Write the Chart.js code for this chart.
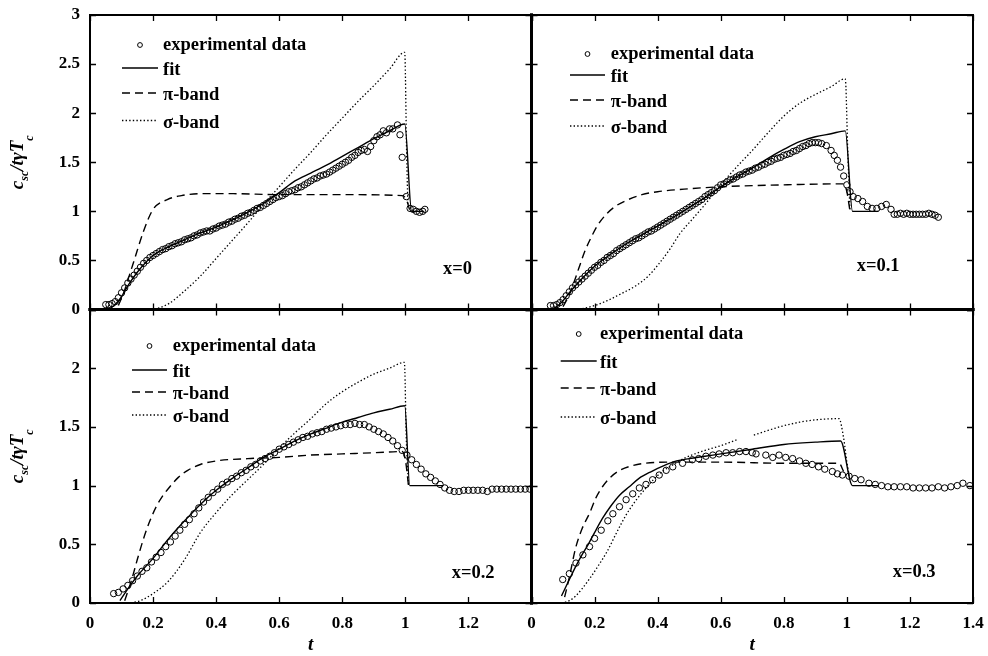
<!DOCTYPE html>
<html>
<head>
<meta charset="utf-8">
<script src="https://cdn.jsdelivr.net/npm/chart.js@4.4.1/dist/chart.umd.min.js"></script>
<style>
  html, body { margin: 0; background: #fff; }
  #wrap { position: relative; width: 988px; height: 656px; }
  #wrap canvas { position: absolute; left: 0; top: 0; }
</style>
</head>
<body>
<div id="wrap">
  <canvas id="p0" width="988" height="656"></canvas>
  <canvas id="p1" width="988" height="656"></canvas>
  <canvas id="p2" width="988" height="656"></canvas>
  <canvas id="p3" width="988" height="656"></canvas>
</div>
<script>
"use strict"

// legend / series names
var seriesNames = ["experimental data", "fit", "\u03c0-band", "\u03c3-band"];
var panelTags = ["x=0", "x=0.1", "x=0.2", "x=0.3"];
var tTicks = [0, 0.2, 0.4, 0.6, 0.8, 1, 1.2, 1.4];

// ---- x = 0 ----  [t, c/tγTc]
var exp0 = [[0.05,0.05],[0.06,0.05],[0.07,0.06],[0.08,0.08],[0.09,0.12],[0.10,0.17],[0.11,0.22],[0.12,0.27],[0.13,0.31],[0.14,0.35],
  [0.15,0.39],[0.16,0.43],[0.17,0.47],[0.18,0.50],[0.19,0.53],[0.20,0.55],[0.21,0.57],[0.22,0.59],[0.23,0.61],[0.24,0.62],
  [0.25,0.64],[0.26,0.65],[0.27,0.67],[0.28,0.68],[0.29,0.69],[0.30,0.71],[0.31,0.72],[0.32,0.73],[0.33,0.75],[0.34,0.76],
  [0.35,0.78],[0.36,0.79],[0.37,0.80],[0.38,0.80],[0.39,0.82],[0.40,0.83],[0.41,0.85],[0.42,0.86],[0.43,0.87],[0.44,0.89],
  [0.45,0.90],[0.46,0.92],[0.47,0.93],[0.48,0.95],[0.49,0.96],[0.50,0.98],[0.51,0.99],[0.52,1.01],[0.53,1.03],[0.54,1.04],
  [0.55,1.06],[0.56,1.08],[0.57,1.10],[0.58,1.12],[0.59,1.14],[0.60,1.15],[0.61,1.16],[0.62,1.18],[0.63,1.20],[0.64,1.21],
  [0.65,1.22],[0.66,1.24],[0.67,1.25],[0.68,1.27],[0.69,1.29],[0.70,1.31],[0.71,1.33],[0.72,1.34],[0.73,1.36],[0.74,1.37],
  [0.75,1.38],[0.76,1.40],[0.77,1.42],[0.78,1.44],[0.79,1.46],[0.80,1.48],[0.81,1.50],[0.82,1.52],[0.83,1.55],[0.84,1.57],
  [0.85,1.60],[0.86,1.62],[0.87,1.63],[0.88,1.61],[0.89,1.66],[0.90,1.72],[0.91,1.76],[0.92,1.78],[0.93,1.82],[0.94,1.80],
  [0.95,1.84],[0.96,1.84],[0.975,1.88],[0.983,1.78],[0.99,1.55],[1.003,1.15],[1.015,1.03],[1.025,1.02],[1.035,1.00],[1.045,0.99],
  [1.055,1.00],[1.062,1.02]];
var fit0 = [[0.06,0],[0.08,0.05],[0.1,0.13],[0.12,0.24],[0.15,0.38],[0.2,0.55],[0.25,0.64],[0.3,0.71],[0.35,0.78],[0.4,0.84],
  [0.45,0.91],[0.5,0.99],[0.55,1.08],[0.6,1.19],[0.65,1.31],[0.7,1.39],[0.75,1.47],[0.8,1.56],[0.85,1.65],[0.9,1.74],
  [0.95,1.82],[0.998,1.89],[1.02,1.0],[1.06,1.0]];
var pi0 = [[0.09,0.04],[0.11,0.2],[0.125,0.35],[0.14,0.5],[0.17,0.8],[0.2,1.02],[0.245,1.12],[0.29,1.16],[0.35,1.18],[0.45,1.18],
  [0.6,1.17],[0.8,1.17],[0.99,1.16],[1.003,1.12],[1.015,1.0]];
var sigma0 = [[0.205,0],[0.25,0.06],[0.3,0.19],[0.35,0.34],[0.4,0.52],[0.45,0.7],[0.5,0.88],[0.55,1.07],[0.6,1.25],[0.65,1.43],
  [0.7,1.6],[0.75,1.78],[0.8,1.95],[0.85,2.12],[0.9,2.28],[0.95,2.45],[0.998,2.62],[1.004,1.6],[1.008,1.05]];

// ---- x = 0.1 ----
var exp1 = [[0.06,0.04],[0.07,0.04],[0.08,0.05],[0.09,0.07],[0.10,0.10],[0.11,0.14],[0.12,0.18],[0.13,0.22],[0.14,0.25],[0.15,0.28],
  [0.16,0.31],[0.17,0.34],[0.18,0.37],[0.19,0.40],[0.20,0.43],[0.21,0.45],[0.22,0.48],[0.23,0.50],[0.24,0.53],[0.25,0.55],
  [0.26,0.57],[0.27,0.60],[0.28,0.62],[0.29,0.64],[0.30,0.66],[0.31,0.68],[0.32,0.70],[0.33,0.72],[0.34,0.73],[0.35,0.75],
  [0.36,0.77],[0.37,0.79],[0.38,0.80],[0.39,0.82],[0.40,0.84],[0.41,0.86],[0.42,0.88],[0.43,0.90],[0.44,0.92],[0.45,0.94],
  [0.46,0.96],[0.47,0.98],[0.48,1.00],[0.49,1.02],[0.50,1.04],[0.51,1.06],[0.52,1.08],[0.53,1.10],[0.54,1.12],[0.55,1.15],
  [0.56,1.17],[0.57,1.19],[0.58,1.21],[0.59,1.24],[0.60,1.27],[0.61,1.28],[0.62,1.30],[0.63,1.32],[0.64,1.33],[0.65,1.35],
  [0.66,1.37],[0.67,1.38],[0.68,1.40],[0.69,1.41],[0.70,1.42],[0.71,1.44],[0.72,1.45],[0.73,1.47],[0.74,1.48],[0.75,1.50],
  [0.76,1.51],[0.77,1.53],[0.78,1.54],[0.79,1.55],[0.80,1.57],[0.81,1.58],[0.82,1.59],[0.83,1.61],[0.84,1.62],[0.85,1.64],
  [0.86,1.66],[0.87,1.67],[0.88,1.69],[0.89,1.70],[0.90,1.70],[0.91,1.70],[0.92,1.69],[0.935,1.67],[0.95,1.62],[0.96,1.57],
  [0.97,1.52],[0.98,1.45],[0.99,1.36],[1.0,1.27],[1.01,1.20],[1.02,1.15],[1.035,1.13],[1.05,1.10],[1.065,1.05],[1.08,1.03],
  [1.095,1.03],[1.11,1.05],[1.125,1.07],[1.14,1.02],[1.15,0.97],[1.16,0.97],[1.17,0.98],[1.18,0.97],[1.19,0.98],[1.20,0.97],
  [1.21,0.97],[1.22,0.97],[1.23,0.97],[1.24,0.97],[1.25,0.97],[1.26,0.98],[1.27,0.97],[1.28,0.96],[1.29,0.94]];
var fit1 = [[0.06,0],[0.08,0.03],[0.1,0.09],[0.12,0.17],[0.15,0.28],[0.2,0.44],[0.25,0.56],[0.3,0.67],[0.35,0.76],[0.4,0.85],
  [0.45,0.94],[0.5,1.04],[0.55,1.14],[0.6,1.25],[0.65,1.35],[0.7,1.44],[0.75,1.54],[0.8,1.63],[0.85,1.71],[0.9,1.76],
  [0.95,1.79],[0.995,1.82],[1.018,1.0],[1.1,1.0]];
var pi1 = [[0.1,0.03],[0.12,0.15],[0.135,0.28],[0.15,0.42],[0.17,0.6],[0.19,0.74],[0.21,0.86],[0.24,0.98],[0.27,1.06],[0.3,1.11],
  [0.35,1.17],[0.4,1.2],[0.5,1.23],[0.6,1.25],[0.8,1.27],[0.99,1.28],[1.0,1.2],[1.01,1.0]];
var sigma1 = [[0.15,0],[0.2,0.04],[0.24,0.09],[0.29,0.17],[0.33,0.24],[0.37,0.34],[0.405,0.47],[0.44,0.62],[0.47,0.77],[0.51,0.92],
  [0.545,1.05],[0.6,1.27],[0.65,1.45],[0.7,1.62],[0.75,1.8],[0.8,1.97],[0.85,2.1],[0.9,2.19],[0.95,2.27],[0.995,2.35],
  [1.003,1.6],[1.01,1.0]];

// ---- x = 0.2 ----
var exp2 = [[0.075,0.08],[0.09,0.09],[0.105,0.12],[0.12,0.15],[0.135,0.19],[0.15,0.23],[0.165,0.27],[0.18,0.30],[0.195,0.35],[0.21,0.39],
  [0.225,0.43],[0.24,0.48],[0.255,0.52],[0.27,0.57],[0.285,0.62],[0.30,0.67],[0.315,0.71],[0.33,0.76],[0.345,0.81],[0.36,0.86],
  [0.375,0.90],[0.39,0.94],[0.405,0.97],[0.42,1.01],[0.435,1.03],[0.45,1.06],[0.465,1.08],[0.48,1.11],[0.495,1.13],[0.51,1.16],
  [0.525,1.18],[0.54,1.21],[0.555,1.23],[0.57,1.25],[0.585,1.28],[0.60,1.31],[0.615,1.33],[0.63,1.35],[0.645,1.37],[0.66,1.39],
  [0.675,1.41],[0.69,1.42],[0.705,1.44],[0.72,1.45],[0.735,1.46],[0.75,1.48],[0.765,1.49],[0.78,1.50],[0.795,1.51],[0.81,1.52],
  [0.825,1.52],[0.84,1.53],[0.855,1.52],[0.87,1.52],[0.885,1.50],[0.90,1.48],[0.915,1.46],[0.93,1.44],[0.945,1.41],[0.96,1.38],
  [0.975,1.34],[0.99,1.30],[1.005,1.26],[1.02,1.22],[1.035,1.18],[1.05,1.14],[1.065,1.10],[1.08,1.07],[1.095,1.04],[1.11,1.01],
  [1.125,0.98],[1.14,0.96],[1.155,0.95],[1.17,0.95],[1.185,0.96],[1.20,0.96],[1.215,0.96],[1.23,0.96],[1.245,0.96],[1.26,0.95],
  [1.275,0.97],[1.29,0.97],[1.305,0.97],[1.32,0.97],[1.335,0.97],[1.35,0.97],[1.365,0.97],[1.38,0.97],[1.395,0.97]];
var fit2 = [[0.095,0.02],[0.12,0.12],[0.15,0.23],[0.2,0.38],[0.25,0.55],[0.3,0.7],[0.35,0.84],[0.4,0.96],[0.45,1.06],[0.5,1.15],
  [0.55,1.24],[0.6,1.31],[0.65,1.38],[0.7,1.44],[0.75,1.49],[0.8,1.54],[0.85,1.58],[0.9,1.62],[0.95,1.65],[0.998,1.68],
  [1.014,1.0],[1.12,1.0]];
var pi2 = [[0.11,0.02],[0.13,0.18],[0.15,0.37],[0.17,0.55],[0.19,0.7],[0.21,0.82],[0.23,0.91],[0.25,0.98],[0.28,1.07],[0.31,1.13],
  [0.35,1.18],[0.4,1.21],[0.5,1.23],[0.6,1.24],[0.7,1.26],[0.8,1.27],[0.9,1.28],[0.99,1.29],[1.0,1.22],[1.01,1.0]];
var sigma2 = [[0.13,0],[0.16,0.02],[0.2,0.08],[0.25,0.19],[0.3,0.37],[0.35,0.6],[0.4,0.77],[0.45,0.92],[0.5,1.05],[0.55,1.18],
  [0.6,1.32],[0.65,1.45],[0.7,1.57],[0.75,1.7],[0.8,1.8],[0.85,1.88],[0.9,1.95],[0.95,2.0],[0.997,2.05],[1.003,1.4],[1.01,1.0]];

// ---- x = 0.3 ----
var exp3 = [[0.099,0.20],[0.12,0.25],[0.141,0.34],[0.163,0.41],[0.184,0.48],[0.2,0.55],[0.221,0.62],[0.242,0.70],[0.258,0.76],[0.279,0.82],
  [0.3,0.88],[0.321,0.93],[0.342,0.98],[0.363,1.01],[0.384,1.05],[0.405,1.09],[0.427,1.13],[0.448,1.16],[0.479,1.19],[0.51,1.22],
  [0.53,1.23],[0.553,1.25],[0.575,1.26],[0.595,1.27],[0.617,1.28],[0.638,1.28],[0.66,1.29],[0.68,1.29],[0.7,1.28],[0.712,1.27],
  [0.743,1.26],[0.765,1.24],[0.785,1.26],[0.806,1.24],[0.828,1.23],[0.85,1.21],[0.87,1.19],[0.89,1.18],[0.91,1.16],[0.93,1.14],
  [0.954,1.12],[0.97,1.10],[0.986,1.09],[1.007,1.08],[1.025,1.06],[1.045,1.05],[1.07,1.02],[1.09,1.01],[1.11,1.00],[1.13,0.99],
  [1.15,0.99],[1.17,0.99],[1.19,0.99],[1.21,0.98],[1.23,0.98],[1.25,0.98],[1.27,0.98],[1.29,0.99],[1.31,0.98],[1.33,0.99],
  [1.35,1.00],[1.368,1.02],[1.39,1.00]];
var fit3 = [[0.095,0.06],[0.12,0.2],[0.14,0.31],[0.16,0.41],[0.18,0.5],[0.2,0.6],[0.225,0.72],[0.25,0.82],[0.28,0.92],[0.31,0.99],
  [0.34,1.06],[0.38,1.12],[0.42,1.17],[0.46,1.21],[0.5,1.23],[0.55,1.25],[0.6,1.27],[0.7,1.31],[0.8,1.35],[0.9,1.37],
  [0.98,1.38],[1.018,1.0],[1.1,1.0]];
var pi3 = [[0.105,0.05],[0.12,0.22],[0.14,0.47],[0.16,0.63],[0.185,0.77],[0.205,0.9],[0.225,0.99],[0.25,1.07],[0.28,1.13],[0.32,1.17],
  [0.36,1.19],[0.45,1.2],[0.6,1.2],[0.8,1.19],[0.975,1.19],[0.99,1.12]];
var sigma3 = [[0.095,0],[0.12,0.02],[0.14,0.06],[0.16,0.12],[0.185,0.21],[0.21,0.31],[0.24,0.44],[0.27,0.6],[0.3,0.75],[0.33,0.87],
  [0.36,0.97],[0.39,1.06],[0.42,1.13],[0.45,1.18],[0.49,1.24],[0.55,1.3],[0.6,1.34],[0.65,1.39],[0.68,null],[0.705,1.43],
  [0.75,1.47],[0.8,1.51],[0.85,1.54],[0.9,1.56],[0.975,1.57],[0.99,1.4],[1.0,1.2],[1.01,1.05]];

var panelData = [[exp0, fit0, pi0, sigma0], [exp1, fit1, pi1, sigma1], [exp2, fit2, pi2, sigma2], [exp3, fit3, pi3, sigma3]];

// box of every panel on the page, which of its edges are shared,
// and where its legend / tag sit
var panels = [
  {left: 90, right: 531.5, top: 15, bottom: 309.5, ymax: 3, yLabels: true, xLabels: false,
   inner: {right: true, bottom: true},
   legend: {x0: 122, x1: 158, textX: 163, base: [50, 75, 100, 127.5]}, tag: [443, 274]},
  {left: 531.5, right: 973, top: 15, bottom: 309.5, ymax: 3, yLabels: false, xLabels: false,
   inner: {left: true, bottom: true},
   legend: {x0: 570, x1: 605, textX: 610.7, base: [59, 82, 107, 133]}, tag: [856.7, 271]},
  {left: 90, right: 531.5, top: 309.5, bottom: 603, ymax: 2.5, yLabels: true, xLabels: true,
   inner: {right: true, top: true},
   legend: {x0: 132, x1: 167, textX: 172.7, base: [351, 377, 399, 422]}, tag: [451.7, 578]},
  {left: 531.5, right: 973, top: 309.5, bottom: 603, ymax: 2.5, yLabels: false, xLabels: true,
   inner: {left: true, top: true},
   legend: {x0: 560.7, x1: 596.7, textX: 600, base: [339, 368, 395, 424]}, tag: [892.7, 577]}
];

var serif = '"Liberation Serif", "DejaVu Serif", serif';
Chart.defaults.font.family = serif;
Chart.defaults.color = "#000";

function pts(arr){
    return arr.map(function(p){ return {x: p[0], y: p[1]}; });
}

// frame plus inward tick marks on all four sides
var framePlugin = {
    id: "frame",
    afterDatasetsDraw: function(chart, args, opts){
        var ctx = chart.ctx, a = chart.chartArea;
        var sx = chart.scales.x, sy = chart.scales.y;
        var inner = opts.inner || {};
        ctx.save();
        ctx.strokeStyle = "#000";
        ctx.lineWidth = 1.3;
        ctx.beginPath();
        for(var i=0;i<sx.ticks.length;i++){
            var px = Math.round(sx.getPixelForTick(i)) + 0.5;
            ctx.moveTo(px, a.bottom); ctx.lineTo(px, a.bottom - 6);
            ctx.moveTo(px, a.top); ctx.lineTo(px, a.top + 6);
        }
        for(var j=0;j<sy.ticks.length;j++){
            var py = Math.round(sy.getPixelForTick(j)) + 0.5;
            ctx.moveTo(a.left, py); ctx.lineTo(a.left + 6, py);
            ctx.moveTo(a.right, py); ctx.lineTo(a.right - 6, py);
        }
        ctx.stroke();

        ctx.lineCap = "square";
        var edges = [
            ["top", a.left, a.top, a.right, a.top],
            ["bottom", a.left, a.bottom, a.right, a.bottom],
            ["left", a.left, a.top, a.left, a.bottom],
            ["right", a.right, a.top, a.right, a.bottom]
        ];
        edges.forEach(function(e){
            ctx.lineWidth = inner[e[0]] ? 3 : 2;
            ctx.beginPath();
            ctx.moveTo(e[1], e[2]);
            ctx.lineTo(e[3], e[4]);
            ctx.stroke();
        });
        ctx.restore();
    }
};

// legend inside the plot, panel tag, axis titles
var notesPlugin = {
    id: "notes",
    afterDraw: function(chart, args, opts){
        var ctx = chart.ctx;
        var L = opts.legend;
        ctx.save();
        ctx.fillStyle = "#000";
        ctx.strokeStyle = "#000";
        ctx.font = "bold 18.5px " + serif;
        ctx.textBaseline = "alphabetic";
        chart.data.datasets.forEach(function(ds, i){
            var b = L.base[i];
            ctx.save();
            if(i === 0){
                ctx.lineWidth = 1;
                ctx.beginPath();
                ctx.arc((L.x0 + L.x1) / 2, b - 5, 2.4, 0, Math.PI * 2);
                ctx.stroke();
            }else{
                ctx.lineWidth = ds.borderWidth;
                ctx.setLineDash(ds.borderDash || []);
                ctx.beginPath();
                ctx.moveTo(L.x0, b - 7);
                ctx.lineTo(L.x1, b - 7);
                ctx.stroke();
            }
            ctx.restore();
            ctx.fillText(ds.label, L.textX, b);
        });

        ctx.fillText(opts.tag, opts.tagPos[0], opts.tagPos[1]);

        var a = chart.chartArea;
        if(opts.xTitle){
            ctx.font = "italic bold 19px " + serif;
            ctx.textAlign = "center";
            ctx.fillText("t", (a.left + a.right) / 2, 650);
            ctx.textAlign = "left";
        }
        if(opts.yTitle){
            var runs = [["c", 0, 19], ["sc", 4.5, 12], ["/t\u03b3T", 0, 19], ["c", 10, 12]];
            var total = 0;
            runs.forEach(function(r){
                ctx.font = "italic bold " + r[2] + "px " + serif;
                r.push(ctx.measureText(r[0]).width);
                total += r[3];
            });
            ctx.translate(23, (a.top + a.bottom) / 2);
            ctx.rotate(-Math.PI / 2);
            var x = -total / 2;
            runs.forEach(function(r){
                ctx.font = "italic bold " + r[2] + "px " + serif;
                ctx.fillText(r[0], x, r[1]);
                x += r[3];
            });
        }
        ctx.restore();
    }
};

// tick labels may overhang the panel box; keep the box where it is
function noOverhang(scale){
    scale.paddingLeft = 0;
    scale.paddingRight = 0;
    scale.paddingTop = 0;
    scale.paddingBottom = 0;
}

function lineSet(label, data, dash, width){
    return {
        label: label,
        data: pts(data),
        showLine: true,
        borderColor: "#000",
        borderWidth: width,
        borderDash: dash,
        pointRadius: 0,
        pointHoverRadius: 0,
        cubicInterpolationMode: "monotone",
        spanGaps: false
    };
}

function draw_panel(k){
    var p = panels[k];
    var d = panelData[k];
    var datasets = [
        {
            label: seriesNames[0],
            data: pts(d[0]),
            showLine: false,
            pointStyle: "circle",
            pointRadius: 3.2,
            pointBorderWidth: 1,
            pointBorderColor: "#000",
            pointBackgroundColor: "rgba(255,255,255,0)"
        },
        lineSet(seriesNames[1], d[1], [], 1.4),
        lineSet(seriesNames[2], d[2], [8, 5], 1.4),
        lineSet(seriesNames[3], d[3], [1.4, 2.2], 1.3)
    ];

    new Chart(document.getElementById("p" + k), {
        type: "scatter",
        data: {datasets: datasets},
        plugins: [framePlugin, notesPlugin],
        options: {
            responsive: false,
            animation: false,
            events: [],
            layout: {padding: {left: 0, top: p.top, right: 988 - p.right, bottom: 0}},
            plugins: {
                legend: {display: false},
                tooltip: {enabled: false},
                frame: {inner: p.inner},
                notes: {
                    legend: p.legend,
                    tag: panelTags[k],
                    tagPos: p.tag,
                    xTitle: p.xLabels,
                    yTitle: p.yLabels
                }
            },
            scales: {
                x: {
                    type: "linear",
                    min: 0,
                    max: 1.4,
                    afterBuildTicks: function(scale){
                        scale.ticks = tTicks.map(function(v){ return {value: v}; });
                    },
                    grid: {display: false, drawTicks: false},
                    border: {display: false},
                    ticks: {
                        display: p.xLabels,
                        padding: 10,
                        font: {size: 17, weight: "bold"},
                        callback: function(v){
                            // 1.4 of the left panel sits under the neighbour's 0
                            return (p.left < 100 && v > 1.3) ? "" : v;
                        }
                    },
                    afterFit: function(scale){
                        scale.height = 656 - p.bottom;
                        noOverhang(scale);
                    }
                },
                y: {
                    type: "linear",
                    min: 0,
                    max: p.ymax,
                    ticks: {
                        display: p.yLabels,
                        stepSize: 0.5,
                        padding: 10,
                        font: {size: 17, weight: "bold"},
                        callback: function(v){
                            return (p.ymax < 3 && v > 2.2) ? "" : v;
                        }
                    },
                    grid: {display: false, drawTicks: false},
                    border: {display: false},
                    afterFit: function(scale){
                        scale.width = p.left;
                        noOverhang(scale);
                    }
                }
            }
        }
    });
}

for(var k=0;k<panels.length;k++){
    draw_panel(k);
}
</script>
</body>
</html>
